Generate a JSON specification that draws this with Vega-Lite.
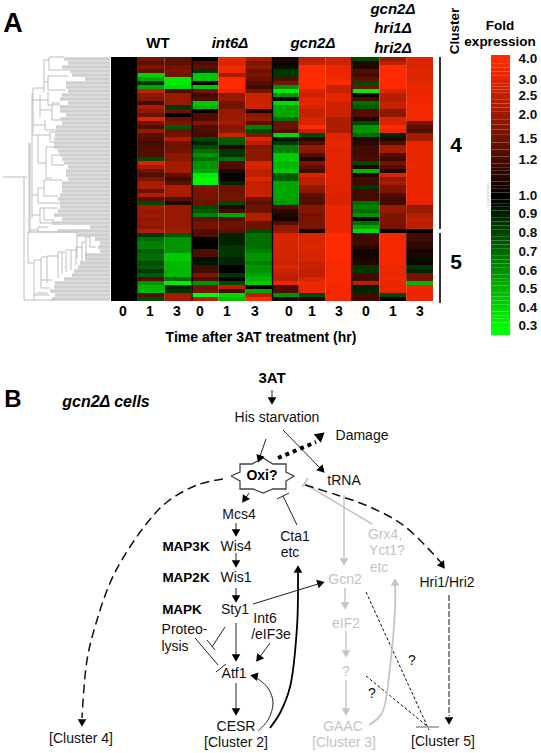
{"$schema":"https://vega.github.io/schema/vega-lite/v6.json","width":541,"height":753,"padding":0,"autosize":{"type":"fit","contains":"padding"},"background":"white","config":{"view":{"stroke":null},"font":"Liberation Sans"},"resolve":{"scale":{"x":"independent","y":"independent","color":"independent"}},
"layer":[
{"data":{"values":[
{"g":0,"s":0,"v":1},{"g":0,"s":1,"v":1.6},{"g":0,"s":2,"v":1.4},{"g":0,"s":3,"v":1},{"g":0,"s":4,"v":3.3},{"g":0,"s":5,"v":2.2},{"g":0,"s":6,"v":1.1},{"g":0,"s":7,"v":2.5},{"g":0,"s":8,"v":2.8},{"g":0,"s":9,"v":0.8},{"g":0,"s":10,"v":2},{"g":0,"s":11,"v":3},
{"g":1,"s":0,"v":1},{"g":1,"s":1,"v":1.4},{"g":1,"s":2,"v":1.4},{"g":1,"s":3,"v":1.3},{"g":1,"s":4,"v":3},{"g":1,"s":5,"v":1.7},{"g":1,"s":6,"v":1.05},{"g":1,"s":7,"v":2.7},{"g":1,"s":8,"v":2.8},{"g":1,"s":9,"v":1.1},{"g":1,"s":10,"v":2.6},{"g":1,"s":11,"v":3},
{"g":2,"s":0,"v":1},{"g":2,"s":1,"v":1.7},{"g":2,"s":2,"v":1.6},{"g":2,"s":3,"v":1.4},{"g":2,"s":4,"v":3.6},{"g":2,"s":5,"v":1.9},{"g":2,"s":6,"v":0.95},{"g":2,"s":7,"v":4},{"g":2,"s":8,"v":3.5},{"g":2,"s":9,"v":1.1},{"g":2,"s":10,"v":4},{"g":2,"s":11,"v":3},
{"g":3,"s":0,"v":1},{"g":3,"s":1,"v":1.4},{"g":3,"s":2,"v":1.7},{"g":3,"s":3,"v":0.85},{"g":3,"s":4,"v":3.6},{"g":3,"s":5,"v":1.5},{"g":3,"s":6,"v":0.85},{"g":3,"s":7,"v":4},{"g":3,"s":8,"v":3.5},{"g":3,"s":9,"v":1.3},{"g":3,"s":10,"v":4},{"g":3,"s":11,"v":3.2},
{"g":4,"s":0,"v":1},{"g":4,"s":1,"v":0.42},{"g":4,"s":2,"v":1.6},{"g":4,"s":3,"v":0.45},{"g":4,"s":4,"v":2.2},{"g":4,"s":5,"v":1.7},{"g":4,"s":6,"v":0.85},{"g":4,"s":7,"v":4},{"g":4,"s":8,"v":3.5},{"g":4,"s":9,"v":1.2},{"g":4,"s":10,"v":4},{"g":4,"s":11,"v":3},
{"g":5,"s":0,"v":1},{"g":5,"s":1,"v":0.55},{"g":5,"s":2,"v":0.35},{"g":5,"s":3,"v":0.45},{"g":5,"s":4,"v":4},{"g":5,"s":5,"v":1.5},{"g":5,"s":6,"v":1.3},{"g":5,"s":7,"v":4},{"g":5,"s":8,"v":3.6},{"g":5,"s":9,"v":1.4},{"g":5,"s":10,"v":4},{"g":5,"s":11,"v":3.2},
{"g":6,"s":0,"v":1},{"g":6,"s":1,"v":0.85},{"g":6,"s":2,"v":0.35},{"g":6,"s":3,"v":1},{"g":6,"s":4,"v":4},{"g":6,"s":5,"v":1.3},{"g":6,"s":6,"v":1.6},{"g":6,"s":7,"v":4},{"g":6,"s":8,"v":4},{"g":6,"s":9,"v":0.8},{"g":6,"s":10,"v":4},{"g":6,"s":11,"v":3.3},
{"g":7,"s":0,"v":1},{"g":7,"s":1,"v":0.55},{"g":7,"s":2,"v":0.4},{"g":7,"s":3,"v":0.45},{"g":7,"s":4,"v":4},{"g":7,"s":5,"v":1.2},{"g":7,"s":6,"v":0.6},{"g":7,"s":7,"v":4},{"g":7,"s":8,"v":2.7},{"g":7,"s":9,"v":1.5},{"g":7,"s":10,"v":4},{"g":7,"s":11,"v":3.5},
{"g":8,"s":0,"v":1},{"g":8,"s":1,"v":2.6},{"g":8,"s":2,"v":1.3},{"g":8,"s":3,"v":1.6},{"g":8,"s":4,"v":3.5},{"g":8,"s":5,"v":1.6},{"g":8,"s":6,"v":0.35},{"g":8,"s":7,"v":3},{"g":8,"s":8,"v":2.7},{"g":8,"s":9,"v":0.35},{"g":8,"s":10,"v":3},{"g":8,"s":11,"v":3.5},
{"g":9,"s":0,"v":1},{"g":9,"s":1,"v":1.9},{"g":9,"s":2,"v":2},{"g":9,"s":3,"v":1.2},{"g":9,"s":4,"v":1.9},{"g":9,"s":5,"v":2.8},{"g":9,"s":6,"v":0.6},{"g":9,"s":7,"v":2.8},{"g":9,"s":8,"v":3.3},{"g":9,"s":9,"v":1},{"g":9,"s":10,"v":2.5},{"g":9,"s":11,"v":3.5},
{"g":10,"s":0,"v":1},{"g":10,"s":1,"v":1.8},{"g":10,"s":2,"v":2},{"g":10,"s":3,"v":1.3},{"g":10,"s":4,"v":2},{"g":10,"s":5,"v":2.8},{"g":10,"s":6,"v":1},{"g":10,"s":7,"v":3.3},{"g":10,"s":8,"v":3.3},{"g":10,"s":9,"v":1.2},{"g":10,"s":10,"v":2.4},{"g":10,"s":11,"v":3.6},
{"g":11,"s":0,"v":1},{"g":11,"s":1,"v":1.2},{"g":11,"s":2,"v":2},{"g":11,"s":3,"v":0.45},{"g":11,"s":4,"v":1.6},{"g":11,"s":5,"v":2.8},{"g":11,"s":6,"v":0.4},{"g":11,"s":7,"v":3.3},{"g":11,"s":8,"v":2.8},{"g":11,"s":9,"v":0.7},{"g":11,"s":10,"v":2.7},{"g":11,"s":11,"v":3.7},
{"g":12,"s":0,"v":1},{"g":12,"s":1,"v":2.3},{"g":12,"s":2,"v":0.85},{"g":12,"s":3,"v":0.5},{"g":12,"s":4,"v":1.6},{"g":12,"s":5,"v":2.8},{"g":12,"s":6,"v":0.55},{"g":12,"s":7,"v":3},{"g":12,"s":8,"v":2.8},{"g":12,"s":9,"v":0.75},{"g":12,"s":10,"v":2.7},{"g":12,"s":11,"v":3.7},
{"g":13,"s":0,"v":1},{"g":13,"s":1,"v":1.9},{"g":13,"s":2,"v":1.5},{"g":13,"s":3,"v":1},{"g":13,"s":4,"v":2},{"g":13,"s":5,"v":1.1},{"g":13,"s":6,"v":0.55},{"g":13,"s":7,"v":2.7},{"g":13,"s":8,"v":2.8},{"g":13,"s":9,"v":1.3},{"g":13,"s":10,"v":1.9},{"g":13,"s":11,"v":3.7},
{"g":14,"s":0,"v":1},{"g":14,"s":1,"v":1.5},{"g":14,"s":2,"v":1},{"g":14,"s":3,"v":1.3},{"g":14,"s":4,"v":2},{"g":14,"s":5,"v":1.8},{"g":14,"s":6,"v":0.55},{"g":14,"s":7,"v":2.7},{"g":14,"s":8,"v":2.8},{"g":14,"s":9,"v":1.3},{"g":14,"s":10,"v":1.9},{"g":14,"s":11,"v":3.7},
{"g":15,"s":0,"v":1},{"g":15,"s":1,"v":3},{"g":15,"s":2,"v":1.5},{"g":15,"s":3,"v":1.3},{"g":15,"s":4,"v":2},{"g":15,"s":5,"v":2},{"g":15,"s":6,"v":0.7},{"g":15,"s":7,"v":3},{"g":15,"s":8,"v":2.3},{"g":15,"s":9,"v":1.1},{"g":15,"s":10,"v":3},{"g":15,"s":11,"v":3.6},
{"g":16,"s":0,"v":1},{"g":16,"s":1,"v":1.6},{"g":16,"s":2,"v":1.7},{"g":16,"s":3,"v":1.7},{"g":16,"s":4,"v":2.2},{"g":16,"s":5,"v":1.4},{"g":16,"s":6,"v":1.5},{"g":16,"s":7,"v":3},{"g":16,"s":8,"v":2.3},{"g":16,"s":9,"v":0.8},{"g":16,"s":10,"v":3},{"g":16,"s":11,"v":1.7},
{"g":17,"s":0,"v":1},{"g":17,"s":1,"v":1.3},{"g":17,"s":2,"v":0.75},{"g":17,"s":3,"v":1.3},{"g":17,"s":4,"v":1.8},{"g":17,"s":5,"v":0.65},{"g":17,"s":6,"v":1.5},{"g":17,"s":7,"v":4},{"g":17,"s":8,"v":2.3},{"g":17,"s":9,"v":0.6},{"g":17,"s":10,"v":4},{"g":17,"s":11,"v":1.4},
{"g":18,"s":0,"v":1},{"g":18,"s":1,"v":2},{"g":18,"s":2,"v":1.5},{"g":18,"s":3,"v":1.3},{"g":18,"s":4,"v":1.9},{"g":18,"s":5,"v":0.8},{"g":18,"s":6,"v":1.3},{"g":18,"s":7,"v":2.7},{"g":18,"s":8,"v":2.3},{"g":18,"s":9,"v":0.6},{"g":18,"s":10,"v":3.5},{"g":18,"s":11,"v":1.3},
{"g":19,"s":0,"v":1},{"g":19,"s":1,"v":1.4},{"g":19,"s":2,"v":1.6},{"g":19,"s":3,"v":1.2},{"g":19,"s":4,"v":2.8},{"g":19,"s":5,"v":1.7},{"g":19,"s":6,"v":0.4},{"g":19,"s":7,"v":0.8},{"g":19,"s":8,"v":3.2},{"g":19,"s":9,"v":0.7},{"g":19,"s":10,"v":0.9},{"g":19,"s":11,"v":2.2},
{"g":20,"s":0,"v":1},{"g":20,"s":1,"v":1.3},{"g":20,"s":2,"v":2.3},{"g":20,"s":3,"v":0.8},{"g":20,"s":4,"v":0.75},{"g":20,"s":5,"v":3.2},{"g":20,"s":6,"v":0.95},{"g":20,"s":7,"v":1.1},{"g":20,"s":8,"v":3.2},{"g":20,"s":9,"v":1.1},{"g":20,"s":10,"v":1.1},{"g":20,"s":11,"v":2.2},
{"g":21,"s":0,"v":1},{"g":21,"s":1,"v":1.2},{"g":21,"s":2,"v":1.6},{"g":21,"s":3,"v":0.9},{"g":21,"s":4,"v":0.75},{"g":21,"s":5,"v":2.5},{"g":21,"s":6,"v":0.85},{"g":21,"s":7,"v":1.3},{"g":21,"s":8,"v":3.4},{"g":21,"s":9,"v":1.15},{"g":21,"s":10,"v":1.3},{"g":21,"s":11,"v":3.4},
{"g":22,"s":0,"v":1},{"g":22,"s":1,"v":1.3},{"g":22,"s":2,"v":1.5},{"g":22,"s":3,"v":0.8},{"g":22,"s":4,"v":1.1},{"g":22,"s":5,"v":1.8},{"g":22,"s":6,"v":0.65},{"g":22,"s":7,"v":2},{"g":22,"s":8,"v":3.3},{"g":22,"s":9,"v":1.2},{"g":22,"s":10,"v":2.2},{"g":22,"s":11,"v":3.4},
{"g":23,"s":0,"v":1},{"g":23,"s":1,"v":1.3},{"g":23,"s":2,"v":1.6},{"g":23,"s":3,"v":0.7},{"g":23,"s":4,"v":0.85},{"g":23,"s":5,"v":1.9},{"g":23,"s":6,"v":0.65},{"g":23,"s":7,"v":1.9},{"g":23,"s":8,"v":3.1},{"g":23,"s":9,"v":1.2},{"g":23,"s":10,"v":2.2},{"g":23,"s":11,"v":3.4},
{"g":24,"s":0,"v":1},{"g":24,"s":1,"v":1.3},{"g":24,"s":2,"v":1.9},{"g":24,"s":3,"v":0.6},{"g":24,"s":4,"v":0.85},{"g":24,"s":5,"v":1.9},{"g":24,"s":6,"v":0.45},{"g":24,"s":7,"v":1.3},{"g":24,"s":8,"v":3.3},{"g":24,"s":9,"v":1.2},{"g":24,"s":10,"v":1.3},{"g":24,"s":11,"v":3.4},
{"g":25,"s":0,"v":1},{"g":25,"s":1,"v":0.8},{"g":25,"s":2,"v":1.9},{"g":25,"s":3,"v":0.7},{"g":25,"s":4,"v":0.7},{"g":25,"s":5,"v":1.9},{"g":25,"s":6,"v":0.45},{"g":25,"s":7,"v":1.1},{"g":25,"s":8,"v":3.3},{"g":25,"s":9,"v":1.25},{"g":25,"s":10,"v":1.2},{"g":25,"s":11,"v":3.4},
{"g":26,"s":0,"v":1},{"g":26,"s":1,"v":3},{"g":26,"s":2,"v":2.2},{"g":26,"s":3,"v":0.6},{"g":26,"s":4,"v":1.3},{"g":26,"s":5,"v":3},{"g":26,"s":6,"v":0.5},{"g":26,"s":7,"v":1.7},{"g":26,"s":8,"v":3.2},{"g":26,"s":9,"v":0.8},{"g":26,"s":10,"v":1.6},{"g":26,"s":11,"v":3.4},
{"g":27,"s":0,"v":1},{"g":27,"s":1,"v":2.2},{"g":27,"s":2,"v":2.2},{"g":27,"s":3,"v":0.6},{"g":27,"s":4,"v":1.3},{"g":27,"s":5,"v":2.9},{"g":27,"s":6,"v":0.5},{"g":27,"s":7,"v":1.4},{"g":27,"s":8,"v":3.2},{"g":27,"s":9,"v":1.1},{"g":27,"s":10,"v":1.3},{"g":27,"s":11,"v":3.4},
{"g":28,"s":0,"v":1},{"g":28,"s":1,"v":1.5},{"g":28,"s":2,"v":2.2},{"g":28,"s":3,"v":0.55},{"g":28,"s":4,"v":1.1},{"g":28,"s":5,"v":2.5},{"g":28,"s":6,"v":0.45},{"g":28,"s":7,"v":1.2},{"g":28,"s":8,"v":3.2},{"g":28,"s":9,"v":0.5},{"g":28,"s":10,"v":1.1},{"g":28,"s":11,"v":3.4},
{"g":29,"s":0,"v":1},{"g":29,"s":1,"v":1.3},{"g":29,"s":2,"v":1.4},{"g":29,"s":3,"v":0.35},{"g":29,"s":4,"v":1},{"g":29,"s":5,"v":2.6},{"g":29,"s":6,"v":0.75},{"g":29,"s":7,"v":3},{"g":29,"s":8,"v":3.2},{"g":29,"s":9,"v":1.1},{"g":29,"s":10,"v":3},{"g":29,"s":11,"v":3.4},
{"g":30,"s":0,"v":1},{"g":30,"s":1,"v":1.7},{"g":30,"s":2,"v":1.2},{"g":30,"s":3,"v":0.32},{"g":30,"s":4,"v":1},{"g":30,"s":5,"v":3.3},{"g":30,"s":6,"v":0.75},{"g":30,"s":7,"v":2.5},{"g":30,"s":8,"v":3.2},{"g":30,"s":9,"v":1.2},{"g":30,"s":10,"v":2},{"g":30,"s":11,"v":3.5},
{"g":31,"s":0,"v":1},{"g":31,"s":1,"v":2.2},{"g":31,"s":2,"v":1.4},{"g":31,"s":3,"v":0.32},{"g":31,"s":4,"v":0.9},{"g":31,"s":5,"v":2.6},{"g":31,"s":6,"v":0.55},{"g":31,"s":7,"v":2.5},{"g":31,"s":8,"v":3.2},{"g":31,"s":9,"v":1.2},{"g":31,"s":10,"v":2.2},{"g":31,"s":11,"v":3.5},
{"g":32,"s":0,"v":1},{"g":32,"s":1,"v":2.3},{"g":32,"s":2,"v":2.3},{"g":32,"s":3,"v":1.7},{"g":32,"s":4,"v":1.5},{"g":32,"s":5,"v":2.7},{"g":32,"s":6,"v":0.55},{"g":32,"s":7,"v":2},{"g":32,"s":8,"v":3.1},{"g":32,"s":9,"v":0.85},{"g":32,"s":10,"v":1.7},{"g":32,"s":11,"v":3.5},
{"g":33,"s":0,"v":1},{"g":33,"s":1,"v":1.5},{"g":33,"s":2,"v":2.3},{"g":33,"s":3,"v":1.7},{"g":33,"s":4,"v":1.5},{"g":33,"s":5,"v":2.7},{"g":33,"s":6,"v":0.55},{"g":33,"s":7,"v":1.9},{"g":33,"s":8,"v":3.1},{"g":33,"s":9,"v":1.2},{"g":33,"s":10,"v":1.7},{"g":33,"s":11,"v":3.5},
{"g":34,"s":0,"v":1},{"g":34,"s":1,"v":2.4},{"g":34,"s":2,"v":2.2},{"g":34,"s":3,"v":1.6},{"g":34,"s":4,"v":1.6},{"g":34,"s":5,"v":2.7},{"g":34,"s":6,"v":0.55},{"g":34,"s":7,"v":1.4},{"g":34,"s":8,"v":3},{"g":34,"s":9,"v":1.2},{"g":34,"s":10,"v":1.3},{"g":34,"s":11,"v":3.5},
{"g":35,"s":0,"v":1},{"g":35,"s":1,"v":1.4},{"g":35,"s":2,"v":1.3},{"g":35,"s":3,"v":1.6},{"g":35,"s":4,"v":1.6},{"g":35,"s":5,"v":1.6},{"g":35,"s":6,"v":0.55},{"g":35,"s":7,"v":1.3},{"g":35,"s":8,"v":3},{"g":35,"s":9,"v":1.2},{"g":35,"s":10,"v":1.2},{"g":35,"s":11,"v":3.5},
{"g":36,"s":0,"v":1},{"g":36,"s":1,"v":0.8},{"g":36,"s":2,"v":1.1},{"g":36,"s":3,"v":1.5},{"g":36,"s":4,"v":0.8},{"g":36,"s":5,"v":1.4},{"g":36,"s":6,"v":0.6},{"g":36,"s":7,"v":1.3},{"g":36,"s":8,"v":3},{"g":36,"s":9,"v":0.7},{"g":36,"s":10,"v":1.2},{"g":36,"s":11,"v":3.3},
{"g":37,"s":0,"v":1},{"g":37,"s":1,"v":2.2},{"g":37,"s":2,"v":2},{"g":37,"s":3,"v":0.8},{"g":37,"s":4,"v":1.1},{"g":37,"s":5,"v":1.5},{"g":37,"s":6,"v":1.3},{"g":37,"s":7,"v":1.8},{"g":37,"s":8,"v":3.5},{"g":37,"s":9,"v":0.65},{"g":37,"s":10,"v":2},{"g":37,"s":11,"v":2},
{"g":38,"s":0,"v":1},{"g":38,"s":1,"v":2},{"g":38,"s":2,"v":2},{"g":38,"s":3,"v":0.75},{"g":38,"s":4,"v":1.2},{"g":38,"s":5,"v":1.5},{"g":38,"s":6,"v":1.15},{"g":38,"s":7,"v":1.8},{"g":38,"s":8,"v":3.5},{"g":38,"s":9,"v":0.7},{"g":38,"s":10,"v":2},{"g":38,"s":11,"v":2},
{"g":39,"s":0,"v":1},{"g":39,"s":1,"v":2.1},{"g":39,"s":2,"v":2},{"g":39,"s":3,"v":0.65},{"g":39,"s":4,"v":0.55},{"g":39,"s":5,"v":2.4},{"g":39,"s":6,"v":1.1},{"g":39,"s":7,"v":1.6},{"g":39,"s":8,"v":3.5},{"g":39,"s":9,"v":0.6},{"g":39,"s":10,"v":1.7},{"g":39,"s":11,"v":2.4},
{"g":40,"s":0,"v":1},{"g":40,"s":1,"v":1.9},{"g":40,"s":2,"v":2},{"g":40,"s":3,"v":1.4},{"g":40,"s":4,"v":1.3},{"g":40,"s":5,"v":2.4},{"g":40,"s":6,"v":1.05},{"g":40,"s":7,"v":1.7},{"g":40,"s":8,"v":3.5},{"g":40,"s":9,"v":1},{"g":40,"s":10,"v":1.7},{"g":40,"s":11,"v":2.6},
{"g":41,"s":0,"v":1},{"g":41,"s":1,"v":2},{"g":41,"s":2,"v":2},{"g":41,"s":3,"v":1.6},{"g":41,"s":4,"v":1.5},{"g":41,"s":5,"v":1.5},{"g":41,"s":6,"v":1.3},{"g":41,"s":7,"v":1.7},{"g":41,"s":8,"v":3.4},{"g":41,"s":9,"v":0.7},{"g":41,"s":10,"v":1.7},{"g":41,"s":11,"v":2.5},
{"g":42,"s":0,"v":1},{"g":42,"s":1,"v":1.9},{"g":42,"s":2,"v":2},{"g":42,"s":3,"v":1.6},{"g":42,"s":4,"v":1.5},{"g":42,"s":5,"v":1.5},{"g":42,"s":6,"v":2},{"g":42,"s":7,"v":1.7},{"g":42,"s":8,"v":3.4},{"g":42,"s":9,"v":0.55},{"g":42,"s":10,"v":1.6},{"g":42,"s":11,"v":2.5},
{"g":43,"s":0,"v":1},{"g":43,"s":1,"v":2.4},{"g":43,"s":2,"v":2.2},{"g":43,"s":3,"v":1.3},{"g":43,"s":4,"v":1.4},{"g":43,"s":5,"v":0.8},{"g":43,"s":6,"v":2},{"g":43,"s":7,"v":1.05},{"g":43,"s":8,"v":3.5},{"g":43,"s":9,"v":0.4},{"g":43,"s":10,"v":1},{"g":43,"s":11,"v":1},
{"g":44,"s":0,"v":1},{"g":44,"s":1,"v":0.85},{"g":44,"s":2,"v":0.75},{"g":44,"s":3,"v":1.3},{"g":44,"s":4,"v":0.9},{"g":44,"s":5,"v":0.7},{"g":44,"s":6,"v":3},{"g":44,"s":7,"v":3},{"g":44,"s":8,"v":4},{"g":44,"s":9,"v":1.2},{"g":44,"s":10,"v":3.7},{"g":44,"s":11,"v":1.2},
{"g":45,"s":0,"v":1},{"g":45,"s":1,"v":0.7},{"g":45,"s":2,"v":0.6},{"g":45,"s":3,"v":1},{"g":45,"s":4,"v":0.9},{"g":45,"s":5,"v":0.7},{"g":45,"s":6,"v":3.1},{"g":45,"s":7,"v":3},{"g":45,"s":8,"v":4},{"g":45,"s":9,"v":1.2},{"g":45,"s":10,"v":3.7},{"g":45,"s":11,"v":1.2},
{"g":46,"s":0,"v":1},{"g":46,"s":1,"v":0.65},{"g":46,"s":2,"v":0.6},{"g":46,"s":3,"v":1},{"g":46,"s":4,"v":0.9},{"g":46,"s":5,"v":0.7},{"g":46,"s":6,"v":3},{"g":46,"s":7,"v":3},{"g":46,"s":8,"v":4},{"g":46,"s":9,"v":1.2},{"g":46,"s":10,"v":3.7},{"g":46,"s":11,"v":1.15},
{"g":47,"s":0,"v":1},{"g":47,"s":1,"v":0.65},{"g":47,"s":2,"v":0.6},{"g":47,"s":3,"v":1},{"g":47,"s":4,"v":0.85},{"g":47,"s":5,"v":0.7},{"g":47,"s":6,"v":3},{"g":47,"s":7,"v":3.1},{"g":47,"s":8,"v":4},{"g":47,"s":9,"v":1.15},{"g":47,"s":10,"v":3.7},{"g":47,"s":11,"v":1.15},
{"g":48,"s":0,"v":1},{"g":48,"s":1,"v":0.75},{"g":48,"s":2,"v":0.6},{"g":48,"s":3,"v":1.3},{"g":48,"s":4,"v":0.85},{"g":48,"s":5,"v":0.65},{"g":48,"s":6,"v":2.9},{"g":48,"s":7,"v":3},{"g":48,"s":8,"v":4},{"g":48,"s":9,"v":1.05},{"g":48,"s":10,"v":3.7},{"g":48,"s":11,"v":1.05},
{"g":49,"s":0,"v":1},{"g":49,"s":1,"v":0.7},{"g":49,"s":2,"v":0.45},{"g":49,"s":3,"v":1.3},{"g":49,"s":4,"v":0.85},{"g":49,"s":5,"v":0.6},{"g":49,"s":6,"v":2.9},{"g":49,"s":7,"v":2.9},{"g":49,"s":8,"v":4},{"g":49,"s":9,"v":1.05},{"g":49,"s":10,"v":3.7},{"g":49,"s":11,"v":1.1},
{"g":50,"s":0,"v":1},{"g":50,"s":1,"v":0.7},{"g":50,"s":2,"v":0.45},{"g":50,"s":3,"v":0.95},{"g":50,"s":4,"v":0.9},{"g":50,"s":5,"v":0.6},{"g":50,"s":6,"v":2.9},{"g":50,"s":7,"v":3},{"g":50,"s":8,"v":4},{"g":50,"s":9,"v":1.1},{"g":50,"s":10,"v":3.7},{"g":50,"s":11,"v":0.95},
{"g":51,"s":0,"v":1},{"g":51,"s":1,"v":0.8},{"g":51,"s":2,"v":0.5},{"g":51,"s":3,"v":0.95},{"g":51,"s":4,"v":0.9},{"g":51,"s":5,"v":0.65},{"g":51,"s":6,"v":2.7},{"g":51,"s":7,"v":2.7},{"g":51,"s":8,"v":3.8},{"g":51,"s":9,"v":1.1},{"g":51,"s":10,"v":3.7},{"g":51,"s":11,"v":1.05},
{"g":52,"s":0,"v":1},{"g":52,"s":1,"v":0.75},{"g":52,"s":2,"v":0.5},{"g":52,"s":3,"v":1.2},{"g":52,"s":4,"v":1},{"g":52,"s":5,"v":0.6},{"g":52,"s":6,"v":3.1},{"g":52,"s":7,"v":2.7},{"g":52,"s":8,"v":3.8},{"g":52,"s":9,"v":0.85},{"g":52,"s":10,"v":3.5},{"g":52,"s":11,"v":0.85},
{"g":53,"s":0,"v":1},{"g":53,"s":1,"v":0.85},{"g":53,"s":2,"v":0.5},{"g":53,"s":3,"v":1.2},{"g":53,"s":4,"v":1},{"g":53,"s":5,"v":0.6},{"g":53,"s":6,"v":2.8},{"g":53,"s":7,"v":2.6},{"g":53,"s":8,"v":3.8},{"g":53,"s":9,"v":0.85},{"g":53,"s":10,"v":3.5},{"g":53,"s":11,"v":0.9},
{"g":54,"s":0,"v":1},{"g":54,"s":1,"v":0.75},{"g":54,"s":2,"v":0.5},{"g":54,"s":3,"v":1.7},{"g":54,"s":4,"v":0.85},{"g":54,"s":5,"v":0.55},{"g":54,"s":6,"v":2.6},{"g":54,"s":7,"v":2.6},{"g":54,"s":8,"v":3.8},{"g":54,"s":9,"v":1.2},{"g":54,"s":10,"v":3.4},{"g":54,"s":11,"v":1.6},
{"g":55,"s":0,"v":1},{"g":55,"s":1,"v":1.3},{"g":55,"s":2,"v":0.7},{"g":55,"s":3,"v":1.3},{"g":55,"s":4,"v":1},{"g":55,"s":5,"v":0.5},{"g":55,"s":6,"v":2.5},{"g":55,"s":7,"v":3},{"g":55,"s":8,"v":3.8},{"g":55,"s":9,"v":1.2},{"g":55,"s":10,"v":3.6},{"g":55,"s":11,"v":1.6},
{"g":56,"s":0,"v":1},{"g":56,"s":1,"v":0.6},{"g":56,"s":2,"v":0.35},{"g":56,"s":3,"v":0.6},{"g":56,"s":4,"v":0.8},{"g":56,"s":5,"v":0.45},{"g":56,"s":6,"v":3.5},{"g":56,"s":7,"v":3.5},{"g":56,"s":8,"v":3.8},{"g":56,"s":9,"v":2.5},{"g":56,"s":10,"v":3.4},{"g":56,"s":11,"v":0.5},
{"g":57,"s":0,"v":1},{"g":57,"s":1,"v":0.5},{"g":57,"s":2,"v":0.9},{"g":57,"s":3,"v":1.6},{"g":57,"s":4,"v":2.5},{"g":57,"s":5,"v":1},{"g":57,"s":6,"v":1.3},{"g":57,"s":7,"v":3.5},{"g":57,"s":8,"v":3.7},{"g":57,"s":9,"v":0.9},{"g":57,"s":10,"v":3.4},{"g":57,"s":11,"v":3.5},
{"g":58,"s":0,"v":1},{"g":58,"s":1,"v":0.5},{"g":58,"s":2,"v":0.85},{"g":58,"s":3,"v":1.6},{"g":58,"s":4,"v":1.2},{"g":58,"s":5,"v":0.55},{"g":58,"s":6,"v":1.3},{"g":58,"s":7,"v":3.5},{"g":58,"s":8,"v":3.7},{"g":58,"s":9,"v":0.9},{"g":58,"s":10,"v":3.4},{"g":58,"s":11,"v":3.5},
{"g":59,"s":0,"v":1},{"g":59,"s":1,"v":1.3},{"g":59,"s":2,"v":2.2},{"g":59,"s":3,"v":0.3},{"g":59,"s":4,"v":0.4},{"g":59,"s":5,"v":2.5},{"g":59,"s":6,"v":0.6},{"g":59,"s":7,"v":0.8},{"g":59,"s":8,"v":3.7},{"g":59,"s":9,"v":1.2},{"g":59,"s":10,"v":0.8},{"g":59,"s":11,"v":3.5},
{"g":60,"s":0,"v":1},{"g":60,"s":1,"v":0.8},{"g":60,"s":2,"v":2.2},{"g":60,"s":3,"v":2.5},{"g":60,"s":4,"v":0.5},{"g":60,"s":5,"v":4},{"g":60,"s":6,"v":1.1},{"g":60,"s":7,"v":1.1},{"g":60,"s":8,"v":3.7},{"g":60,"s":9,"v":1.2},{"g":60,"s":10,"v":1},{"g":60,"s":11,"v":3.5}
]},
"mark":{"type":"rect"},
"encoding":{"x":{"field":"s","type":"ordinal","axis":null,"scale":{"range":[111,433],"padding":0}},
"y":{"field":"g","type":"ordinal","axis":null,"scale":{"range":[57,301],"padding":0}},
"color":{"field":"v","type":"quantitative","legend":null,"scale":{"clamp":true,"interpolate":"rgb","domain":[0.3,0.4,0.5,0.6,0.7,0.8,0.9,1,1.2,1.5,2,2.5,3,4],"range":["#00ff00","#00db00","#00b800","#009400","#006e00","#004a00","#002400","#000000","#420b00","#6b1200","#961900","#ba1f00","#d92400","#ff2a00"]}}}},
{"data":{"values":[{"v":4.2,"v2":4},{"v":4,"v2":3.8},{"v":3.8,"v2":3.6},{"v":3.6,"v2":3.4},{"v":3.4,"v2":3.2},{"v":3.2,"v2":3},{"v":3,"v2":2.9},{"v":2.9,"v2":2.8},{"v":2.8,"v2":2.7},{"v":2.7,"v2":2.6},{"v":2.6,"v2":2.5},{"v":2.5,"v2":2.4},{"v":2.4,"v2":2.3},{"v":2.3,"v2":2.2},{"v":2.2,"v2":2.1},{"v":2.1,"v2":2},{"v":2,"v2":1.9},{"v":1.9,"v2":1.8},{"v":1.8,"v2":1.7},{"v":1.7,"v2":1.6},{"v":1.6,"v2":1.5},{"v":1.5,"v2":1.45},{"v":1.45,"v2":1.4},{"v":1.4,"v2":1.35},{"v":1.35,"v2":1.3},{"v":1.3,"v2":1.25},{"v":1.25,"v2":1.2},{"v":1.2,"v2":1.18},{"v":1.18,"v2":1.16},{"v":1.16,"v2":1.14},{"v":1.14,"v2":1.12},{"v":1.12,"v2":1.1},{"v":1.1,"v2":1.08},{"v":1.08,"v2":1.06},{"v":1.06,"v2":1.04},{"v":1.04,"v2":1.02},{"v":1.02,"v2":1},{"v":1,"v2":0.98},{"v":0.98,"v2":0.96},{"v":0.96,"v2":0.94},{"v":0.94,"v2":0.92},{"v":0.92,"v2":0.9},{"v":0.9,"v2":0.88},{"v":0.88,"v2":0.86},{"v":0.86,"v2":0.84},{"v":0.84,"v2":0.82},{"v":0.82,"v2":0.8},{"v":0.8,"v2":0.78},{"v":0.78,"v2":0.76},{"v":0.76,"v2":0.74},{"v":0.74,"v2":0.72},{"v":0.72,"v2":0.7},{"v":0.7,"v2":0.68},{"v":0.68,"v2":0.66},{"v":0.66,"v2":0.64},{"v":0.64,"v2":0.62},{"v":0.62,"v2":0.6},{"v":0.6,"v2":0.58},{"v":0.58,"v2":0.56},{"v":0.56,"v2":0.54},{"v":0.54,"v2":0.52},{"v":0.52,"v2":0.5},{"v":0.5,"v2":0.48},{"v":0.48,"v2":0.46},{"v":0.46,"v2":0.44},{"v":0.44,"v2":0.42},{"v":0.42,"v2":0.4},{"v":0.4,"v2":0.38},{"v":0.38,"v2":0.36},{"v":0.36,"v2":0.34},{"v":0.34,"v2":0.32},{"v":0.32,"v2":0.3},{"v":0.3,"v2":0.24}]},
"mark":{"type":"rect"},
"encoding":{"x":{"datum":"bar","type":"nominal","axis":null,"scale":{"range":[491,510],"padding":0}},
"y":{"field":"v","type":"quantitative","axis":null,"scale":{"zero":false,"nice":false,"domain":[4.2,4,3,2.5,2,1.5,1.2,1,0.9,0.8,0.7,0.6,0.5,0.4,0.3,0.24],"range":[55,59,80,96,115,139,160,196,214,233,252,271,289,308,326,335]}},
"y2":{"field":"v2"},
"color":{"field":"v","type":"quantitative","legend":null,"scale":{"clamp":true,"interpolate":"rgb","domain":[0.3,0.4,0.5,0.6,0.7,0.8,0.9,1,1.2,1.5,2,2.5,3,4],"range":["#00ff00","#00db00","#00b800","#009400","#006e00","#004a00","#002400","#000000","#420b00","#6b1200","#961900","#ba1f00","#d92400","#ff2a00"]}}}},
{"data":{"values":[{"v":4,"t":"4.0"},{"v":3,"t":"3.0"},{"v":2.5,"t":"2.5"},{"v":2,"t":"2.0"},{"v":1.5,"t":"1.5"},{"v":1.2,"t":"1.2"},{"v":1,"t":"1.0"},{"v":0.9,"t":"0.9"},{"v":0.8,"t":"0.8"},{"v":0.7,"t":"0.7"},{"v":0.6,"t":"0.6"},{"v":0.5,"t":"0.5"},{"v":0.4,"t":"0.4"},{"v":0.3,"t":"0.3"}]},
"mark":{"type":"text","font":"Liberation Sans","fontWeight":"bold","fontSize":13.5,"baseline":"middle","align":"center","color":"#111"},
"encoding":{"x":{"datum":528,"type":"quantitative","axis":null,"scale":{"domain":[0,541],"range":[0,541]}},
"y":{"field":"v","type":"quantitative","axis":null,"scale":{"zero":false,"nice":false,"domain":[4.2,4,3,2.5,2,1.5,1.2,1,0.9,0.8,0.7,0.6,0.5,0.4,0.3,0.24],"range":[55,59,80,96,115,139,160,196,214,233,252,271,289,308,326,335]}},
"text":{"field":"t"}}},
{"encoding":{"x":{"field":"x","type":"quantitative","axis":null,"scale":{"domain":[0,541],"range":[0,541],"nice":false,"zero":false}},"y":{"field":"y","type":"quantitative","axis":null,"scale":{"domain":[0,753],"range":[0,753],"nice":false,"zero":false}}},
"layer":[
{"data":{"values":[{"x":64,"y":59},{"x":68,"y":63},{"x":62,"y":67},{"x":70,"y":71},{"x":72,"y":75},{"x":85,"y":79},{"x":66,"y":83},{"x":66,"y":87},{"x":68,"y":91},{"x":62,"y":95},{"x":60,"y":99},{"x":68,"y":103},{"x":60,"y":107},{"x":60,"y":111},{"x":66,"y":115},{"x":60,"y":119},{"x":62,"y":123},{"x":56,"y":127},{"x":56,"y":131},{"x":55,"y":135},{"x":54,"y":139},{"x":54,"y":143},{"x":54,"y":147},{"x":58,"y":151},{"x":60,"y":155},{"x":62,"y":159},{"x":64,"y":163},{"x":68,"y":167},{"x":66,"y":171},{"x":66,"y":175},{"x":68,"y":179},{"x":62,"y":183},{"x":62,"y":187},{"x":62,"y":191},{"x":60,"y":195},{"x":58,"y":199},{"x":60,"y":203},{"x":60,"y":207},{"x":58,"y":211},{"x":54,"y":215},{"x":62,"y":219},{"x":52,"y":223},{"x":90,"y":227},{"x":58,"y":231},{"x":78,"y":235},{"x":95,"y":239},{"x":100,"y":243},{"x":98,"y":247},{"x":100,"y":251},{"x":85,"y":255},{"x":85,"y":259},{"x":80,"y":263},{"x":78,"y":267},{"x":74,"y":271},{"x":72,"y":275},{"x":64,"y":279},{"x":55,"y":283},{"x":54,"y":287},{"x":50,"y":291},{"x":55,"y":295},{"x":52,"y":299}]},
"mark":{"type":"rule","stroke":"#cfcfcf","strokeWidth":3.6},
"encoding":{"x2":{"datum":110}}},
{"data":{"values":[
{"x":3,"y":177,"x2":27,"y2":177},{"x":24,"y":177,"x2":24,"y2":300},{"x":29,"y":143,"x2":29,"y2":233},{"x":30,"y":143,"x2":30,"y2":233},{"x":32,"y":93,"x2":32,"y2":218},{"x":33,"y":88,"x2":33,"y2":133},{"x":33,"y":88,"x2":44,"y2":88},{"x":44,"y":60,"x2":44,"y2":92},{"x":44,"y":60,"x2":49,"y2":60},{"x":49,"y":57,"x2":49,"y2":70},{"x":49,"y":57,"x2":64,"y2":57},{"x":49,"y":70,"x2":70,"y2":70},{"x":44,"y":82,"x2":48,"y2":82},{"x":48,"y":76,"x2":48,"y2":90},{"x":48,"y":76,"x2":68,"y2":76},{"x":48,"y":90,"x2":66,"y2":90},
{"x":32,"y":100,"x2":40,"y2":100},{"x":40,"y":95,"x2":40,"y2":117},{"x":40,"y":100,"x2":48,"y2":100},{"x":48,"y":92,"x2":48,"y2":105},{"x":48,"y":105,"x2":60,"y2":105},{"x":40,"y":110,"x2":52,"y2":110},{"x":52,"y":103,"x2":52,"y2":120},{"x":52,"y":103,"x2":60,"y2":103},{"x":52,"y":120,"x2":60,"y2":120},
{"x":33,"y":125,"x2":45,"y2":125},{"x":45,"y":120,"x2":45,"y2":130},{"x":45,"y":130,"x2":56,"y2":130},{"x":32,"y":135,"x2":38,"y2":135},{"x":38,"y":135,"x2":38,"y2":163},{"x":38,"y":135,"x2":50,"y2":135},{"x":50,"y":132,"x2":50,"y2":142},{"x":50,"y":132,"x2":56,"y2":132},{"x":50,"y":142,"x2":54,"y2":142},{"x":38,"y":163,"x2":46,"y2":163},{"x":46,"y":147,"x2":46,"y2":178},{"x":46,"y":147,"x2":58,"y2":147},{"x":46,"y":178,"x2":52,"y2":178},{"x":52,"y":155,"x2":52,"y2":165},{"x":52,"y":155,"x2":60,"y2":155},{"x":52,"y":165,"x2":64,"y2":165},
{"x":32,"y":195,"x2":38,"y2":195},{"x":38,"y":188,"x2":38,"y2":203},{"x":38,"y":188,"x2":44,"y2":188},{"x":44,"y":180,"x2":44,"y2":196},{"x":44,"y":180,"x2":62,"y2":180},{"x":44,"y":196,"x2":58,"y2":196},{"x":38,"y":203,"x2":60,"y2":203},{"x":32,"y":215,"x2":40,"y2":215},{"x":40,"y":208,"x2":40,"y2":223},{"x":40,"y":208,"x2":58,"y2":208},{"x":40,"y":223,"x2":52,"y2":223},{"x":44,"y":208,"x2":44,"y2":220},{"x":44,"y":220,"x2":54,"y2":220},{"x":30,"y":230,"x2":38,"y2":230},{"x":38,"y":227,"x2":38,"y2":232},{"x":38,"y":227,"x2":48,"y2":227},{"x":38,"y":232,"x2":58,"y2":232},
{"x":29,"y":232,"x2":77,"y2":232},{"x":77,"y":232,"x2":77,"y2":258},{"x":28,"y":263,"x2":33,"y2":263},{"x":28,"y":232,"x2":28,"y2":263},{"x":34,"y":260,"x2":34,"y2":300},{"x":34,"y":260,"x2":41,"y2":260},{"x":41,"y":258,"x2":41,"y2":288},{"x":41,"y":257,"x2":47,"y2":257},{"x":47,"y":256,"x2":47,"y2":283},{"x":47,"y":256,"x2":58,"y2":256},{"x":58,"y":252,"x2":58,"y2":278},{"x":58,"y":252,"x2":66,"y2":252},{"x":62,"y":252,"x2":62,"y2":274},{"x":66,"y":252,"x2":66,"y2":272},{"x":66,"y":250,"x2":76,"y2":250},{"x":71,"y":250,"x2":71,"y2":270},{"x":76,"y":247,"x2":76,"y2":265},{"x":76,"y":247,"x2":82,"y2":247},{"x":82,"y":242,"x2":82,"y2":262},{"x":82,"y":242,"x2":86,"y2":242},{"x":86,"y":237,"x2":86,"y2":258},{"x":86,"y":237,"x2":90,"y2":237},{"x":90,"y":237,"x2":90,"y2":247},{"x":90,"y":247,"x2":96,"y2":247},{"x":41,"y":280,"x2":52,"y2":280},{"x":41,"y":288,"x2":50,"y2":288},{"x":24,"y":300,"x2":55,"y2":300},{"x":33,"y":295,"x2":50,"y2":295},{"x":36,"y":293,"x2":48,"y2":293}]},
"mark":{"type":"rule","stroke":"#bdbdbd","strokeWidth":1},
"encoding":{"x2":{"field":"x2"},"y2":{"field":"y2"}}},
{"data":{"values":[{"x":192,"y":57,"x2":192,"y2":301},{"x":272.5,"y":57,"x2":272.5,"y2":301},{"x":352,"y":57,"x2":352,"y2":301}]},
"mark":{"type":"rule","stroke":"#000","strokeWidth":1.3},
"encoding":{"x2":{"field":"x2"},"y2":{"field":"y2"}}},
{"data":{"values":[{"x":440,"y":57,"x2":440,"y2":229},{"x":440,"y":233,"x2":440,"y2":303}]},
"mark":{"type":"rule","stroke":"#000","strokeWidth":1.6},
"encoding":{"x2":{"field":"x2"},"y2":{"field":"y2"}}},
{"data":{"values":[{"x":272,"y":390,"x2":272,"y2":398},{"x":266,"y":439,"x2":259,"y2":459},{"x":283,"y":430,"x2":322,"y2":470},{"x":249,"y":493,"x2":245,"y2":499},{"x":236,"y":523,"x2":236,"y2":530},{"x":236,"y":553,"x2":236,"y2":561},{"x":236,"y":588,"x2":236,"y2":596},{"x":236,"y":623,"x2":236,"y2":655},{"x":236,"y":683,"x2":236,"y2":709},{"x":253,"y":604,"x2":318,"y2":584},{"x":270,"y":643,"x2":259,"y2":658},{"x":225,"y":627,"x2":212,"y2":647},{"x":207,"y":640,"x2":215,"y2":650},{"x":195,"y":638,"x2":218,"y2":665},{"x":216,"y":672,"x2":226,"y2":664},{"x":297,"y":525,"x2":283,"y2":496},{"x":277,"y":499,"x2":289,"y2":493}]},
"mark":{"type":"rule","stroke":"#222","strokeWidth":1},
"encoding":{"x2":{"field":"x2"},"y2":{"field":"y2"}}},
{"data":{"values":[{"x":305,"y":484,"x2":372,"y2":524},{"x":302,"y":487,"x2":308,"y2":478},{"x":344,"y":495,"x2":344,"y2":560},{"x":345,"y":588,"x2":345,"y2":603},{"x":346,"y":631,"x2":346,"y2":651},{"x":346,"y":680,"x2":346,"y2":709}]},
"mark":{"type":"rule","stroke":"#c4c4c4","strokeWidth":1.5},
"encoding":{"x2":{"field":"x2"},"y2":{"field":"y2"}}},
{"data":{"values":[{"x":449,"y":595,"x2":449,"y2":716}]},
"mark":{"type":"rule","stroke":"#111","strokeWidth":1,"strokeDash":[6,2]},
"encoding":{"x2":{"field":"x2"},"y2":{"field":"y2"}}},
{"data":{"values":[{"x":366,"y":592,"x2":429,"y2":730},{"x":366,"y":676,"x2":427,"y2":726}]},
"mark":{"type":"rule","stroke":"#111","strokeWidth":1,"strokeDash":[3,2]},
"encoding":{"x2":{"field":"x2"},"y2":{"field":"y2"}}},
{"data":{"values":[{"x":416,"y":727,"x2":439,"y2":727}]},
"mark":{"type":"rule","stroke":"#777","strokeWidth":1.2},
"encoding":{"x2":{"field":"x2"},"y2":{"field":"y2"}}},
{"data":{"values":[{"x":278,"y":458,"x2":316,"y2":442}]},
"mark":{"type":"rule","stroke":"#000","strokeWidth":4,"strokeDash":[4,4]},
"encoding":{"x2":{"field":"x2"},"y2":{"field":"y2"}}},
{"data":{"values":[{"i":0,"x":231,"y":476},{"i":1,"x":240,"y":481},{"i":2,"x":240,"y":489},{"i":3,"x":253,"y":489},{"i":4,"x":263,"y":493},{"i":5,"x":273,"y":489},{"i":6,"x":286,"y":489},{"i":7,"x":286,"y":481},{"i":8,"x":294,"y":476},{"i":9,"x":286,"y":472},{"i":10,"x":286,"y":464},{"i":11,"x":273,"y":464},{"i":12,"x":263,"y":458},{"i":13,"x":252,"y":464},{"i":14,"x":240,"y":464},{"i":15,"x":240,"y":472},{"i":16,"x":231,"y":476}]},
"mark":{"type":"line","stroke":"#444","strokeWidth":1.3},
"encoding":{"order":{"field":"i"}}},
{"data":{"values":[{"i":0,"x":223,"y":479},{"i":1,"x":197,"y":485},{"i":2,"x":167,"y":502},{"i":3,"x":147,"y":523},{"i":4,"x":123,"y":558},{"i":5,"x":110,"y":583},{"i":6,"x":97,"y":620},{"i":7,"x":87,"y":660},{"i":8,"x":82,"y":718}]},
"mark":{"type":"line","stroke":"#111","strokeWidth":1.5,"strokeDash":[9,5],"interpolate":"catmull-rom"},
"encoding":{"order":{"field":"i"}}},
{"data":{"values":[{"i":0,"x":305,"y":485},{"i":1,"x":337,"y":495},{"i":2,"x":370,"y":507},{"i":3,"x":403,"y":525},{"i":4,"x":437,"y":558},{"i":5,"x":443,"y":565}]},
"mark":{"type":"line","stroke":"#111","strokeWidth":1.5,"strokeDash":[9,5],"interpolate":"catmull-rom"},
"encoding":{"order":{"field":"i"}}},
{"data":{"values":[{"i":0,"x":270,"y":728},{"i":1,"x":280,"y":713},{"i":2,"x":290,"y":687},{"i":3,"x":297,"y":627},{"i":4,"x":298,"y":570}]},
"mark":{"type":"line","stroke":"#000","strokeWidth":1.8,"interpolate":"catmull-rom"},
"encoding":{"order":{"field":"i"}}},
{"data":{"values":[{"i":0,"x":258,"y":731},{"i":1,"x":268,"y":720},{"i":2,"x":273,"y":703},{"i":3,"x":268,"y":688},{"i":4,"x":254,"y":676}]},
"mark":{"type":"line","stroke":"#222","strokeWidth":1,"interpolate":"catmull-rom"},
"encoding":{"order":{"field":"i"}}},
{"data":{"values":[{"i":0,"x":369,"y":725},{"i":1,"x":382,"y":713},{"i":2,"x":390,"y":667},{"i":3,"x":395,"y":610},{"i":4,"x":395,"y":582}]},
"mark":{"type":"line","stroke":"#c4c4c4","strokeWidth":1.8,"interpolate":"catmull-rom"},
"encoding":{"order":{"field":"i"}}},
{"data":{"values":[{"x":272,"y":401,"a":180},{"x":259.3,"y":459,"a":198},{"x":322,"y":470,"a":136},{"x":244.3,"y":499.7,"a":215},{"x":236,"y":533,"a":180},{"x":236,"y":564,"a":180},{"x":236,"y":599,"a":180},{"x":236,"y":658,"a":180},{"x":236,"y":712,"a":180},{"x":321,"y":583,"a":74},{"x":258.4,"y":658.8,"a":216},{"x":254,"y":676,"a":280},{"x":298,"y":569,"a":0},{"x":82,"y":723,"a":180},{"x":442.6,"y":565.8,"a":144},{"x":449,"y":721,"a":180}]},
"mark":{"type":"point","shape":"triangle-up","filled":true,"color":"#000","size":75,"opacity":1},
"encoding":{"angle":{"field":"a","type":"quantitative","scale":null}}},
{"data":{"values":[{"x":320,"y":438,"a":170}]},
"mark":{"type":"point","shape":"triangle-up","filled":true,"color":"#000","size":120,"opacity":1},
"encoding":{"angle":{"field":"a","type":"quantitative","scale":null}}},
{"data":{"values":[{"x":344,"y":562,"a":180},{"x":345,"y":606,"a":180},{"x":346,"y":654,"a":180},{"x":346,"y":712,"a":180},{"x":395,"y":582,"a":0}]},
"mark":{"type":"point","shape":"triangle-up","filled":true,"color":"#c4c4c4","size":75,"opacity":1},
"encoding":{"angle":{"field":"a","type":"quantitative","scale":null}}},
{"data":{"values":[{"x":13,"y":32,"t":"A","s":27,"r":0},{"x":13,"y":407,"t":"B","s":24,"r":0},{"x":158,"y":48,"t":"WT","s":15,"r":0},{"x":123,"y":316,"t":"0","s":14,"r":0},{"x":150,"y":316,"t":"1","s":14,"r":0},{"x":177,"y":316,"t":"3","s":14,"r":0},{"x":200,"y":316,"t":"0","s":14,"r":0},{"x":227,"y":316,"t":"1","s":14,"r":0},{"x":255,"y":316,"t":"3","s":14,"r":0},{"x":289,"y":316,"t":"0","s":14,"r":0},{"x":312,"y":316,"t":"1","s":14,"r":0},{"x":339,"y":316,"t":"3","s":14,"r":0},{"x":366,"y":316,"t":"0","s":14,"r":0},{"x":393,"y":316,"t":"1","s":14,"r":0},{"x":420,"y":316,"t":"3","s":14,"r":0},{"x":261,"y":342,"t":"Time after 3AT treatment (hr)","s":14,"r":0},{"x":459,"y":31,"t":"Cluster","s":13.5,"r":270},{"x":500,"y":30,"t":"Fold","s":13.5,"r":0},{"x":500,"y":46,"t":"expression","s":13.5,"r":0},{"x":456,"y":152,"t":"4","s":21,"r":0},{"x":456,"y":269,"t":"5","s":21,"r":0},{"x":272,"y":383,"t":"3AT","s":15,"r":0},{"x":262,"y":480,"t":"Oxi?","s":14,"r":0},{"x":186,"y":551,"t":"MAP3K","s":13.5,"r":0},{"x":186,"y":582,"t":"MAP2K","s":13.5,"r":0},{"x":182,"y":614,"t":"MAPK","s":13.5,"r":0}]},
"mark":{"type":"text","font":"Liberation Sans","fontWeight":"bold","align":"center","baseline":"alphabetic","color":"#000"},
"encoding":{"text":{"field":"t"},"size":{"field":"s","type":"quantitative","scale":null},"angle":{"field":"r","type":"quantitative","scale":null}}},
{"data":{"values":[{"x":230,"y":48,"t":"int6Δ","s":15},{"x":313,"y":48,"t":"gcn2Δ","s":15},{"x":393,"y":14,"t":"gcn2Δ","s":15},{"x":393,"y":33,"t":"hri1Δ","s":15},{"x":393,"y":53,"t":"hri2Δ","s":15},{"x":106,"y":407,"t":"gcn2Δ cells","s":16}]},
"mark":{"type":"text","font":"Liberation Sans","fontWeight":"bold","fontStyle":"italic","align":"center","baseline":"alphabetic","color":"#000"},
"encoding":{"text":{"field":"t"},"size":{"field":"s","type":"quantitative","scale":null}}},
{"data":{"values":[{"x":277,"y":422,"t":"His starvation"},{"x":362,"y":440,"t":"Damage"},{"x":344,"y":485,"t":"tRNA"},{"x":239,"y":519,"t":"Mcs4"},{"x":236,"y":551,"t":"Wis4"},{"x":236,"y":582,"t":"Wis1"},{"x":235,"y":614,"t":"Sty1"},{"x":184.5,"y":634,"t":"Proteo-"},{"x":175,"y":651,"t":"lysis"},{"x":265,"y":623,"t":"Int6"},{"x":271,"y":639,"t":"/eIF3e"},{"x":234,"y":678,"t":"Atf1"},{"x":236,"y":731,"t":"CESR"},{"x":236,"y":747,"t":"[Cluster 2]"},{"x":81,"y":743,"t":"[Cluster 4]"},{"x":295,"y":541,"t":"Cta1"},{"x":290,"y":557,"t":"etc"},{"x":447,"y":587,"t":"Hri1/Hri2"},{"x":443,"y":746,"t":"[Cluster 5]"},{"x":412,"y":665,"t":"?"},{"x":372,"y":698,"t":"?"}]},
"mark":{"type":"text","font":"Liberation Sans","fontSize":14,"align":"center","baseline":"alphabetic","color":"#111"},
"encoding":{"text":{"field":"t"}}},
{"data":{"values":[{"x":385,"y":539,"t":"Grx4,"},{"x":387,"y":555,"t":"Yct1?"},{"x":379,"y":572,"t":"etc"},{"x":345,"y":584,"t":"Gcn2"},{"x":346,"y":628,"t":"eIF2"},{"x":346,"y":676,"t":"?"},{"x":343,"y":731,"t":"GAAC"},{"x":344,"y":747,"t":"[Cluster 3]"}]},
"mark":{"type":"text","font":"Liberation Sans","fontSize":14,"align":"center","baseline":"alphabetic","color":"#c4c4c4"},
"encoding":{"text":{"field":"t"}}},
{"data":{"values":[{"x":490,"y":195,"t":"Expression"}]},
"mark":{"type":"text","font":"Liberation Sans","fontSize":5,"angle":270,"align":"center","baseline":"alphabetic","color":"#cccccc"},
"encoding":{"text":{"field":"t"}}}
]}
]}
